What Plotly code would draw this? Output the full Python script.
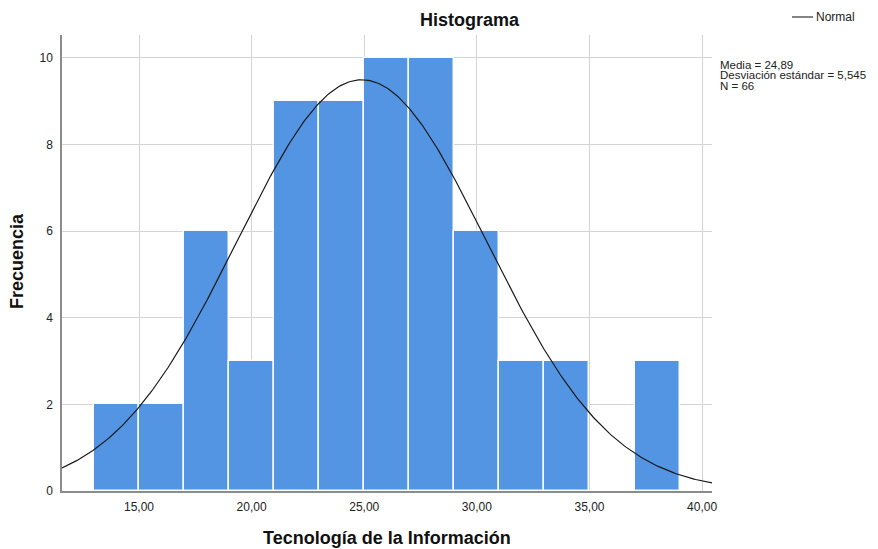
import numpy as np
import plotly.graph_objects as go

bin_starts = [13, 15, 17, 19, 21, 23, 25, 27, 29, 31, 33, 35, 37]
counts = [2, 2, 6, 3, 9, 9, 10, 10, 6, 3, 3, 0, 3]
bin_width = 2
media = 24.89
desv = 5.545
n_total = 66
x_ticks = [15, 20, 25, 30, 35, 40]
x_tick_labels = ["15,00", "20,00", "25,00", "30,00", "35,00", "40,00"]
y_ticks = [0, 2, 4, 6, 8, 10]
stats_lines = ["Media = 24,89", "Desviación estándar = 5,545", "N = 66"]

x_range = [11.58, 40.44]
y_range = [0, 10.53]

centers = [s + bin_width / 2 for s in bin_starts]

xc = np.linspace(x_range[0], x_range[1], 400)
yc = n_total * bin_width / (desv * np.sqrt(2 * np.pi)) * np.exp(-0.5 * ((xc - media) / desv) ** 2)

font_family = "Liberation Sans, Arial, sans-serif"
OFF = 8  # page body margin
W, H = 878 - OFF, 549 - OFF
# plot area in reference pixel coords
PL, PR, PT, PB = 62, 712, 35, 491
L, T = PL - OFF, PT - OFF
PW, PH = PR - PL, PB - PT
R, B = W - L - PW, H - T - PH

def px(x):
    return (x - PL) / PW

def py(y):
    return 1 - (y - PT) / PH

fig = go.Figure()
fig.add_trace(go.Bar(
    x=centers, y=counts, width=bin_width,
    marker=dict(color="#5394E3", line=dict(color="rgba(255,255,255,0.95)", width=1.5)),
    showlegend=False, hoverinfo="x+y",
))
fig.add_trace(go.Scatter(
    x=xc, y=yc, mode="lines", line=dict(color="#1a1a1a", width=1.2),
    name="Normal", showlegend=False,
))

fig.update_layout(
    width=W, height=H,
    margin=dict(l=L, r=R, t=T, b=B, autoexpand=False),
    plot_bgcolor="white", paper_bgcolor="white",
    font=dict(family=font_family, size=12, color="#222"),
    bargap=0,
    xaxis=dict(
        range=x_range, tickvals=x_ticks, ticktext=x_tick_labels,
        showgrid=True, gridcolor="#d4d4d4", gridwidth=1,
        showline=True, linecolor="#8c8c8c", linewidth=1.5,
        zeroline=False, ticks="", tickfont=dict(size=12, color="#222"),
        ticklabelstandoff=4, automargin=False,
    ),
    yaxis=dict(
        range=y_range, tickvals=y_ticks,
        showgrid=True, gridcolor="#d4d4d4", gridwidth=1,
        showline=True, linecolor="#8c8c8c", linewidth=1.5,
        zeroline=False, ticks="", tickfont=dict(size=12, color="#222"),
        ticklabelstandoff=5, automargin=False,
    ),
)

# Title and axis titles
fig.add_annotation(xref="paper", yref="paper", x=px(470), y=py(20),
                   text="<b>Histograma</b>", showarrow=False,
                   xanchor="center", yanchor="middle",
                   font=dict(size=18, color="#111"))
fig.add_annotation(xref="paper", yref="paper", x=px(387), y=py(538),
                   text="<b>Tecnología de la Información</b>", showarrow=False,
                   xanchor="center", yanchor="middle",
                   font=dict(size=18, color="#111"))
fig.add_annotation(xref="paper", yref="paper", x=px(17), y=py(261),
                   text="<b>Frecuencia</b>", showarrow=False, textangle=-90,
                   xanchor="center", yanchor="middle",
                   font=dict(size=18, color="#111"))

# Legend (manual)
fig.add_shape(type="line", xref="paper", yref="paper",
              x0=px(792), x1=px(813), y0=py(17), y1=py(17),
              line=dict(color="#333", width=1.2))
fig.add_annotation(xref="paper", yref="paper", x=px(814), y=py(17),
                   text="Normal", showarrow=False, xanchor="left", yanchor="middle",
                   font=dict(size=12, color="#222"))

# Stats annotation
stats_y = [65, 75.5, 86]
for line, yy in zip(stats_lines, stats_y):
    fig.add_annotation(xref="paper", yref="paper", x=px(718), y=py(yy),
                       text=line, showarrow=False, xanchor="left", yanchor="middle",
                       align="left", font=dict(size=11.5, color="#222"))

fig.write_html("out.html")
